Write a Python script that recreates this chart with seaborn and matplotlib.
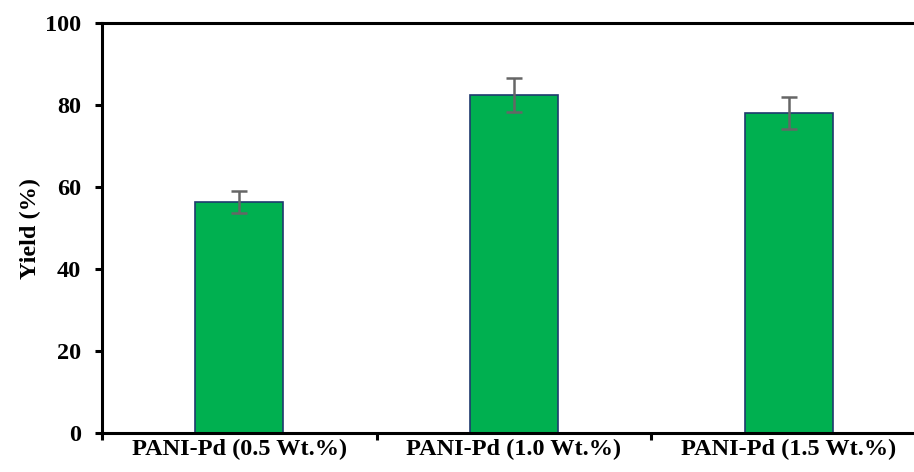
import numpy as np
import pandas as pd
import matplotlib.pyplot as plt
import seaborn as sns

# Chart values
catalysts = ["PANI-Pd (0.5 Wt.%)", "PANI-Pd (1.0 Wt.%)", "PANI-Pd (1.5 Wt.%)"]
yields = [56.3, 82.5, 78.0]
errors = [2.7, 4.2, 3.9]
yticks = [0, 20, 40, 60, 80, 100]

data = pd.DataFrame({"Catalyst": catalysts, "Yield": yields, "Err": errors})

sns.set_style("white")
plt.rcParams['font.family'] = ['Liberation Serif', 'DejaVu Serif']
plt.rcParams['font.weight'] = 'bold'
plt.rcParams['text.color'] = 'black'
plt.rcParams['axes.labelcolor'] = 'black'
plt.rcParams['xtick.color'] = 'black'
plt.rcParams['ytick.color'] = 'black'

fig = plt.figure(figsize=(9.14, 4.72), dpi=100)
ax = fig.add_axes([0.1116, 0.0826, 0.9015, 0.8686])

sns.barplot(x="Catalyst", y="Yield", data=data, color="#00B050", width=0.32,
            edgecolor="#1F3A6E", linewidth=1.2, errorbar=None, saturation=1, ax=ax)
ax.errorbar(np.arange(len(catalysts)), data["Yield"], yerr=data["Err"], fmt="none",
            ecolor="#666666", elinewidth=1.8, capsize=6, capthick=1.8)

ax.set_xlim(-0.5, 2.5)
ax.set_ylim(0, 100)
ax.set_yticks(yticks)
ax.set_xlabel("")
ax.set_ylabel("Yield (%)", fontsize=17.5, fontweight="bold", labelpad=3)

for s in ["left", "bottom", "top"]:
    ax.spines[s].set_visible(True)
    ax.spines[s].set_linewidth(2.2)
    ax.spines[s].set_color("black")
ax.spines["right"].set_visible(False)

ax.tick_params(axis="y", direction="out", length=5, width=2.2, labelsize=17.5, pad=10, left=True)
ax.tick_params(axis="x", which="major", length=0, labelsize=17.5, pad=4)
ax.set_xticks([-0.5, 0.5, 1.5], minor=True)
ax.tick_params(axis="x", which="minor", direction="out", length=5, width=2.2, bottom=True)
for lbl in ax.get_xticklabels() + ax.get_yticklabels():
    lbl.set_fontweight("bold")

plt.savefig("out.png", dpi=100)
